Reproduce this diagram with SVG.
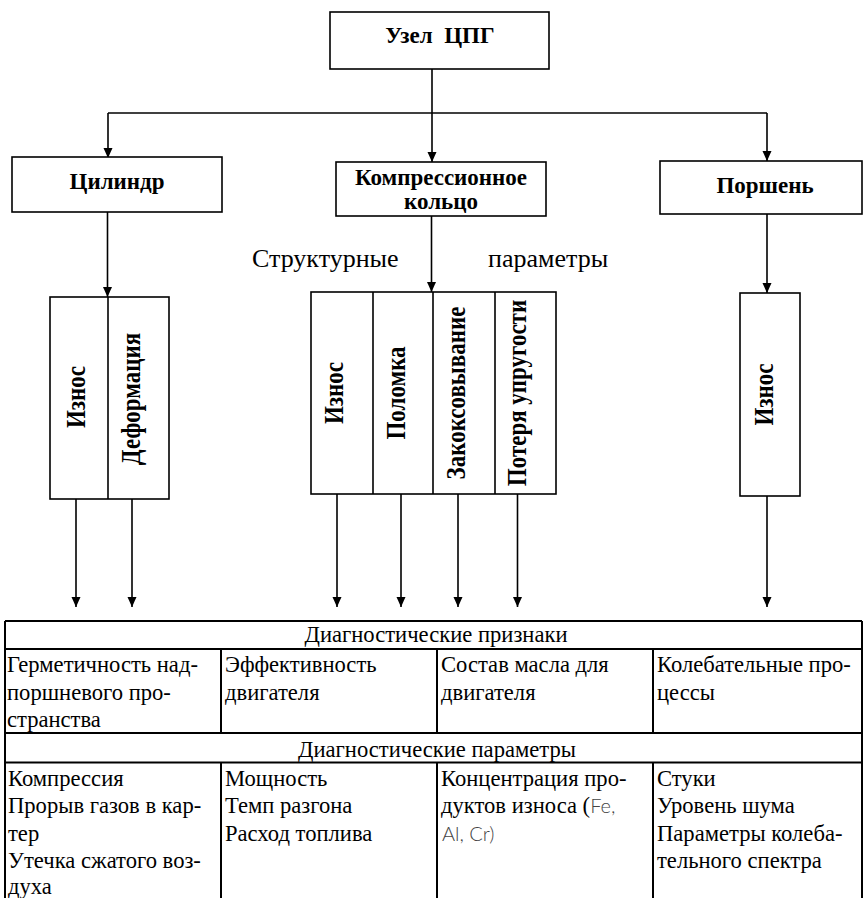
<svg xmlns="http://www.w3.org/2000/svg" width="863" height="898" viewBox="0 0 863 898">
<style>
.box{fill:#fff;stroke:#000;stroke-width:1.6}
.ln{fill:none;stroke:#000;stroke-width:1.6}
.tl{fill:none;stroke:#000;stroke-width:2}
.b{font-family:"Liberation Serif","Times New Roman",serif;font-weight:bold;font-size:23px;fill:#000}
.v{font-family:"Liberation Serif","Times New Roman",serif;font-weight:bold;font-size:23px;fill:#000;text-anchor:middle}
.r{font-family:"Liberation Serif","Times New Roman",serif;font-size:22.6px;fill:#000}
.s{font-family:"Lato","Liberation Sans",sans-serif;font-weight:300;font-size:20px;fill:#444}
.c{text-anchor:middle}
</style>
<defs>
<marker id="ah" markerUnits="userSpaceOnUse" markerWidth="10" markerHeight="10" viewBox="0 0 10 10" refX="10" refY="5" orient="auto">
<path d="M0,0.5 L10,5 L0,9.5 z" fill="#000"/>
</marker>
</defs>

<g id="connectors">
<path class="ln" d="M432,69 V162" marker-end="url(#ah)"/>
<path class="ln" d="M108,113 H767"/>
<path class="ln" d="M108,113 V158" marker-end="url(#ah)"/>
<path class="ln" d="M767,113 V161" marker-end="url(#ah)"/>
<path class="ln" d="M107.5,212 V297" marker-end="url(#ah)"/>
<path class="ln" d="M431.5,216 V292" marker-end="url(#ah)"/>
<path class="ln" d="M767,214 V293" marker-end="url(#ah)"/>
<path class="ln" d="M76,499 V607" marker-end="url(#ah)"/>
<path class="ln" d="M132,499 V607" marker-end="url(#ah)"/>
<path class="ln" d="M337,494 V607" marker-end="url(#ah)"/>
<path class="ln" d="M401,494 V607" marker-end="url(#ah)"/>
<path class="ln" d="M458,494 V607" marker-end="url(#ah)"/>
<path class="ln" d="M517.5,494 V607" marker-end="url(#ah)"/>
<path class="ln" d="M767,496 V607" marker-end="url(#ah)"/>
</g>

<g id="node-root">
<rect class="box" x="330" y="12" width="219" height="57"/>
<text class="b c" x="440" y="43">Узел&#160; ЦПГ</text>
</g>

<g id="node-cylinder">
<rect class="box" x="12" y="157" width="210" height="55"/>
<text class="b c" x="117" y="189">Цилиндр</text>
</g>

<g id="node-ring">
<rect class="box" x="336" y="162" width="210" height="54"/>
<text class="b c" x="441" y="185">Компрессионное</text>
<text class="b c" x="441" y="208.5">кольцо</text>
</g>

<g id="node-piston">
<rect class="box" x="660" y="161" width="202" height="53"/>
<text class="b c" x="765" y="193">Поршень</text>
</g>

<g id="label-struct">
<text class="r" x="252" y="267" style="font-size:26px">Структурные</text>
<text class="r" x="488" y="267" style="font-size:26px">параметры</text>
</g>

<g id="node-cyl-params">
<rect class="box" x="50" y="297" width="119" height="202"/>
<path class="ln" d="M108,297 V499"/>
<text class="v" transform="translate(85,397) rotate(-90) scale(1,1.15)">Износ</text>
<text class="v" transform="translate(139.5,399) rotate(-90) scale(1,1.15)">Деформация</text>
</g>

<g id="node-ring-params">
<rect class="box" x="311" y="292" width="245" height="202"/>
<path class="ln" d="M373,292 V494 M433,292 V494 M495,292 V494"/>
<text class="v" transform="translate(342.5,393) rotate(-90) scale(1,1.15)">Износ</text>
<text class="v" transform="translate(404.5,393) rotate(-90) scale(1,1.15)">Поломка</text>
<text class="v" transform="translate(464.5,393) rotate(-90) scale(1,1.15)">Закоксовывание</text>
<text class="v" transform="translate(526,393) rotate(-90) scale(1,1.15)">Потеря упругости</text>
</g>

<g id="node-piston-params">
<rect class="box" x="740" y="293" width="60" height="203"/>
<text class="v" transform="translate(773,394.5) rotate(-90) scale(1,1.15)">Износ</text>
</g>

<g id="table">
<path class="tl" d="M5,621 H862 M5,649 H862 M5,733 H862 M5,762.5 H862 M5,621 V898 M862,621 V898 M221,649 V733 M437,649 V733 M653,649 V733 M221,762.5 V898 M437,762.5 V898 M653,762.5 V898"/>
<text class="r c" x="436" y="642">Диагностические признаки</text>
<text class="r" x="7" y="672">Герметичность над-</text>
<text class="r" x="7" y="699.5">поршневого про-</text>
<text class="r" x="7" y="727">странства</text>
<text class="r" x="225" y="672">Эффективность</text>
<text class="r" x="225" y="699.5">двигателя</text>
<text class="r" x="441" y="672">Состав масла для</text>
<text class="r" x="441" y="699.5">двигателя</text>
<text class="r" x="657" y="672">Колебательные про-</text>
<text class="r" x="657" y="699.5">цессы</text>
<text class="r c" x="437" y="757">Диагностические параметры</text>
<text class="r" x="8" y="785.5">Компрессия</text>
<text class="r" x="8" y="813">Прорыв газов в кар-</text>
<text class="r" x="8" y="840.5">тер</text>
<text class="r" x="8" y="868">Утечка сжатого воз-</text>
<text class="r" x="8" y="893.5">духа</text>
<text class="r" x="225" y="785.5">Мощность</text>
<text class="r" x="225" y="813">Темп разгона</text>
<text class="r" x="225" y="840.5">Расход топлива</text>
<text class="r" x="441" y="785.5">Концентрация про-</text>
<text class="r" x="441" y="813">дуктов износа (<tspan class="s">Fe,</tspan></text>
<text class="s" x="442" y="840.5">Al, Cr)</text>
<text class="r" x="657" y="785.5">Стуки</text>
<text class="r" x="657" y="813">Уровень шума</text>
<text class="r" x="657" y="840.5">Параметры колеба-</text>
<text class="r" x="657" y="868">тельного спектра</text>
</g>
</svg>
